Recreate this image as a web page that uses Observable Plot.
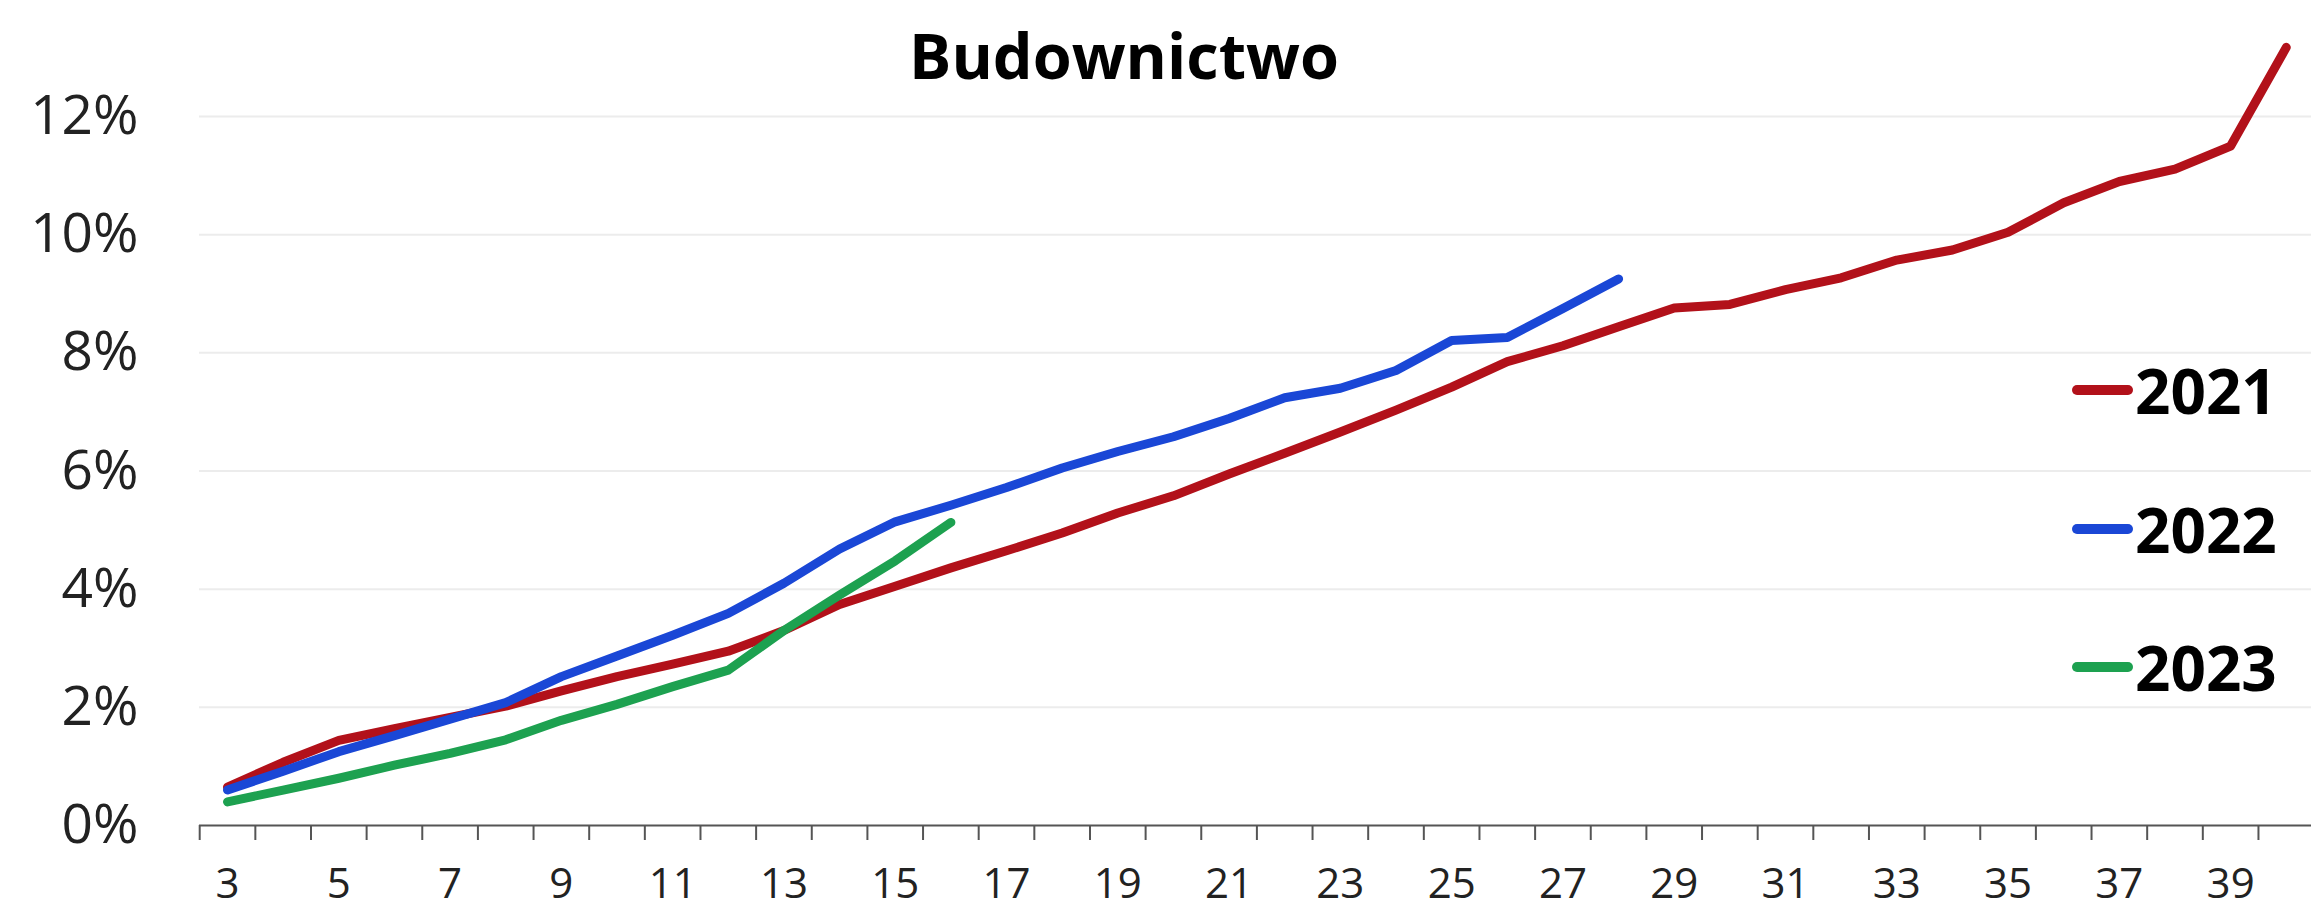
<!DOCTYPE html>
<html>
<head>
<meta charset="utf-8">
<script src="https://cdn.jsdelivr.net/npm/d3@7"></script>
<script src="https://cdn.jsdelivr.net/npm/@observablehq/plot@0.6"></script>
<style>
  html, body { margin: 0; padding: 0; background: #fff; }
  #wrap { position: relative; width: 2311px; height: 911px; overflow: hidden; font-family: "Open Sans", sans-serif; }
  #title { position: absolute; top: 23px; left: 1124px; transform: translateX(-50%); font-weight: 700; font-size: 63px; line-height: 1; color: #000; white-space: nowrap; }
  .leg { position: absolute; left: 2072px; display: flex; align-items: center; font-weight: 700; font-size: 62px; line-height: 1; color: #000; }
  .sw { width: 61px; height: 10px; border-radius: 5px; margin-right: 2px; }
</style>
</head>
<body>
<div id="wrap">
  <div id="chart"></div>
  <div id="title">Budownictwo</div>
</div>
<script>
// ---- data ----
const titleText = "Budownictwo";
const years = ["2021", "2022", "2023"];
const colors = ["#B2111A", "#1A47D6", "#1DA150"];
const weeks2021 = [3,4,5,6,7,8,9,10,11,12,13,14,15,16,17,18,19,20,21,22,23,24,25,26,27,28,29,30,31,32,33,34,35,36,37,38,39,40];
const values2021 = [0.65,1.07,1.44,1.64,1.83,2.02,2.28,2.52,2.73,2.95,3.30,3.74,4.05,4.36,4.65,4.95,5.29,5.58,5.95,6.30,6.66,7.03,7.42,7.85,8.12,8.44,8.76,8.82,9.07,9.27,9.57,9.74,10.04,10.54,10.90,11.11,11.50,13.17];
const weeks2022 = [3,4,5,6,7,8,9,10,11,12,13,14,15,16,17,18,19,20,21,22,23,24,25,26,27,28];
const values2022 = [0.60,0.92,1.25,1.52,1.80,2.08,2.52,2.87,3.22,3.59,4.10,4.68,5.14,5.42,5.72,6.05,6.33,6.58,6.89,7.24,7.40,7.70,8.21,8.26,8.75,9.25];
const weeks2023 = [3,4,5,6,7,8,9,10,11,12,13,14,15,16];
const values2023 = [0.40,0.60,0.80,1.02,1.22,1.45,1.78,2.05,2.35,2.63,3.30,3.90,4.48,5.13];
const xTickLabels = [3,5,7,9,11,13,15,17,19,21,23,25,27,29,31,33,35,37,39];
const xTickMarks = [2.5,3.5,4.5,5.5,6.5,7.5,8.5,9.5,10.5,11.5,12.5,13.5,14.5,15.5,16.5,17.5,18.5,19.5,20.5,21.5,22.5,23.5,24.5,25.5,26.5,27.5,28.5,29.5,30.5,31.5,32.5,33.5,34.5,35.5,36.5,37.5,38.5,39.5,40.5];
const yTicks = [0,2,4,6,8,10,12];

// ---- table ----
const rows = [];
[[years[0], weeks2021, values2021], [years[1], weeks2022, values2022], [years[2], weeks2023, values2023]]
  .forEach(([year, ws, vs]) => ws.forEach((w, i) => rows.push({year, week: w, value: vs[i]})));

const chart = Plot.plot({
  width: 2311,
  height: 911,
  marginLeft: 199,
  marginRight: 0,
  marginTop: 0,
  marginBottom: 86,
  style: { fontFamily: "Open Sans, sans-serif", background: "white", overflow: "visible" },
  x: { type: "linear", domain: [2.5, 40.5], range: [199.2, 2313.6] },
  y: { domain: [0, 12], range: [825, 116] },
  color: { domain: years, range: colors },
  marks: [
    Plot.gridY(yTicks.filter(d => d > 0), { stroke: "#ececec", strokeOpacity: 1, strokeWidth: 2 }),
    Plot.axisY(yTicks, { tickSize: 0, tickPadding: 61, tickFormat: d => d + "%", fontSize: 55, fill: "#222", label: null }),
    Plot.axisX(xTickMarks, { tickSize: 15, tickFormat: () => "", stroke: "#555", strokeWidth: 2, label: null }),
    Plot.axisX(xTickLabels, { tickSize: 0, tickPadding: 43, tickFormat: d => String(d), fontSize: 42, fill: "#222", label: null }),
    Plot.ruleY([0], { stroke: "#555", strokeWidth: 2 }),
    Plot.line(rows, { x: "week", y: "value", z: "year", stroke: "year", strokeWidth: 9, strokeLinejoin: "round", strokeLinecap: "round" })
  ]
});
document.getElementById("chart").appendChild(chart);

// ---- legend ----
const legendCenters = [390, 529, 667];
const wrap = document.getElementById("wrap");
years.forEach((y, i) => {
  const row = document.createElement("div");
  row.className = "leg";
  row.style.top = (legendCenters[i] - 31) + "px";
  const sw = document.createElement("div");
  sw.className = "sw";
  sw.style.background = colors[i];
  const tx = document.createElement("span");
  tx.textContent = y;
  row.appendChild(sw);
  row.appendChild(tx);
  wrap.appendChild(row);
});
</script>
</body>
</html>
